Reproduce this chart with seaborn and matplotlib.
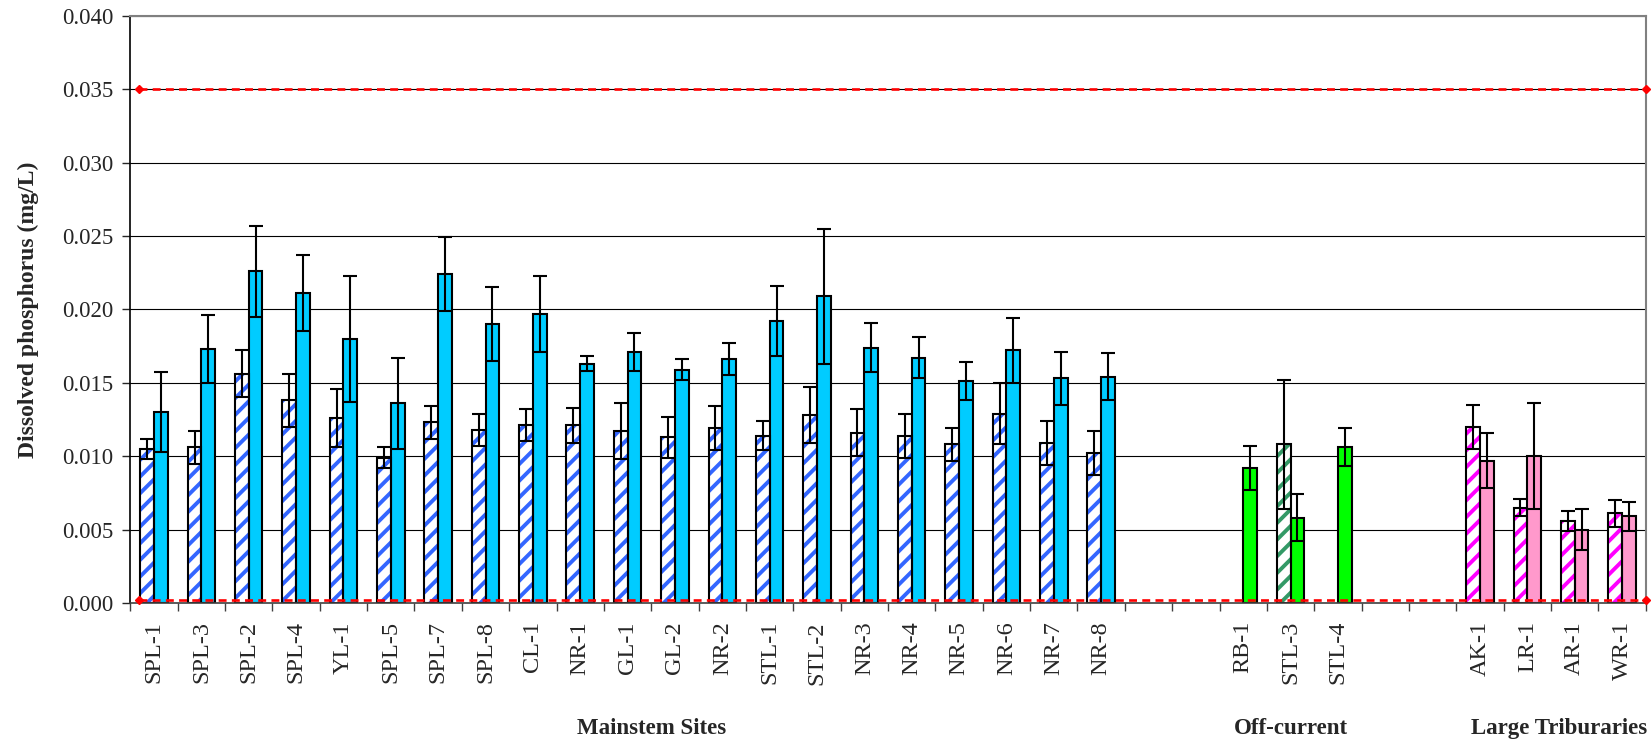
import numpy as np
import pandas as pd
import matplotlib
matplotlib.use('Agg')
import matplotlib.pyplot as plt
import matplotlib.transforms as mtransforms
from matplotlib.patches import Rectangle
import seaborn as sns

# site order along the x axis
sites = ["SPL-1", "SPL-3", "SPL-2", "SPL-4", "YL-1", "SPL-5", "SPL-7", "SPL-8",
         "CL-1", "NR-1", "GL-1", "GL-2", "NR-2", "STL-1", "STL-2", "NR-3",
         "NR-4", "NR-5", "NR-6", "NR-7", "NR-8",
         "RB-1", "STL-3", "STL-4",
         "AK-1", "LR-1", "AR-1", "WR-1"]
groups = ["Mainstem Sites"] * 21 + ["Off-current"] * 3 + ["Large Triburaries"] * 4
group_names = ["Mainstem Sites", "Off-current", "Large Triburaries"]

# hatched bars (first series) and solid bars (second series), mg/L
first_mean = [0.0105, 0.0106, 0.0156, 0.0138, 0.0126, 0.0099, 0.0123, 0.0118,
              0.0121, 0.0121, 0.0117, 0.0113, 0.0119, 0.0114, 0.0128, 0.0116,
              0.0114, 0.0108, 0.0129, 0.0109, 0.0102,
              np.nan, 0.0108, np.nan,
              0.0120, 0.0065, 0.0056, 0.0061]
first_err = [0.0007, 0.0011, 0.0016, 0.0018, 0.0020, 0.0007, 0.0011, 0.0011,
             0.0011, 0.0012, 0.0019, 0.0014, 0.0015, 0.0010, 0.0019, 0.0016,
             0.0015, 0.0011, 0.0021, 0.0015, 0.0015,
             np.nan, 0.0044, np.nan,
             0.0015, 0.0006, 0.0007, 0.0009]
second_mean = [0.0130, 0.0173, 0.0226, 0.0211, 0.0180, 0.0136, 0.0224, 0.0190,
               0.0197, 0.0163, 0.0171, 0.0159, 0.0166, 0.0192, 0.0209, 0.0174,
               0.0167, 0.0151, 0.0172, 0.0153, 0.0154,
               0.0092, 0.0058, 0.0106,
               0.0097, 0.0100, 0.0050, 0.0059]
second_err = [0.0027, 0.0023, 0.0031, 0.0026, 0.0043, 0.0031, 0.0025, 0.0025,
              0.0026, 0.0005, 0.0013, 0.0007, 0.0011, 0.0024, 0.0046, 0.0017,
              0.0014, 0.0013, 0.0022, 0.0018, 0.0016,
              0.0015, 0.0016, 0.0013,
              0.0019, 0.0036, 0.0014, 0.0010]

# reference levels drawn as red dashed lines
criteria = [0.035, 0.0002]

# colours per group: (hatch colour, solid fill)
group_colors = {
    "Mainstem Sites": ("#3366FF", "#00CCFF"),
    "Off-current": ("#339966", "#00FF00"),
    "Large Triburaries": ("#FF00FF", "#FF99CC"),
}

# two empty slots between groups
order = sites[:21] + [" ", "  "] + sites[21:24] + ["   ", "    "] + sites[24:]

df = pd.concat([
    pd.DataFrame({"site": sites, "group": groups, "value": first_mean,
                  "err": first_err, "series": "first"}),
    pd.DataFrame({"site": sites, "group": groups, "value": second_mean,
                  "err": second_err, "series": "second"}),
], ignore_index=True)
lookup = df.set_index(["site", "series"])

sns.set_style("white")
plt.rcParams['font.family'] = ['Liberation Serif', 'DejaVu Serif']
plt.rcParams['hatch.linewidth'] = 2.8

fig = plt.figure(figsize=(16.52, 7.43), dpi=100)
ax = fig.add_axes([0.0789, 0.1884, 0.9173, 0.7905])

sns.barplot(data=df, x="site", y="value", hue="series", order=order,
            hue_order=["first", "second"], width=0.58, errorbar=None,
            legend=False, saturation=1, edgecolor="black", linewidth=1.5,
            ax=ax)

for cont, series in zip(ax.containers, ["first", "second"]):
    for bar in cont:
        cx = bar.get_x() + bar.get_width() / 2
        site = order[int(round(cx))]
        row = lookup.loc[(site, series)]
        hatch_col, fill_col = group_colors[row["group"]]
        if series == "first":
            # hatch drawn in the group colour, outline added on top in black
            bar.set_facecolor("white")
            bar.set_edgecolor(hatch_col)
            bar.set_hatch("//")
            bar.set_linewidth(0)
            ax.add_patch(Rectangle((bar.get_x(), 0), bar.get_width(), bar.get_height(),
                                   fill=False, edgecolor="black", linewidth=1.5,
                                   zorder=bar.get_zorder() + 0.1))
        else:
            bar.set_facecolor(fill_col)
        ax.errorbar(cx, row["value"], yerr=row["err"], fmt="none", ecolor="black",
                    elinewidth=1.5, capsize=5, capthick=1.5, zorder=4)

# criteria lines
for level in criteria:
    ax.plot([-0.32, len(order) - 0.5], [level, level], color="red", lw=1.9,
            ls=(0, (3, 2)), marker="D", ms=4, clip_on=False, zorder=5)

ax.set_xlim(-0.5, len(order) - 0.5)
ax.set_ylim(0, 0.040)
ax.set_yticks(np.arange(0, 0.0401, 0.005))
ax.set_yticklabels([f"{v:.3f}" for v in np.arange(0, 0.0401, 0.005)], fontsize=16.5)
ax.yaxis.grid(True, color="black", linewidth=0.8)
ax.set_axisbelow(True)

ax.set_xticks(range(len(order)))
ax.set_xticklabels([s.strip() for s in order], rotation=90, fontsize=17.5)
ax.set_xticks(np.arange(-0.5, len(order), 1), minor=True)
ax.tick_params(axis="x", which="major", length=0, pad=13)
ax.tick_params(axis="x", which="minor", length=6, width=1, color="#404040", direction="out", bottom=True)
ax.tick_params(axis="y", length=6, width=1, direction="out", left=True, pad=6)

ax.set_xlabel("")
ax.set_ylabel("Dissolved phosphorus (mg/L)", fontsize=17, fontweight="bold")
ax.yaxis.set_label_coords(-0.06, 0.5)

for side in ["top", "right"]:
    ax.spines[side].set_color("#808080")
    ax.spines[side].set_linewidth(1.5)
ax.spines["left"].set_color("black")
ax.spines["left"].set_linewidth(1.2)
ax.spines["bottom"].set_color("#404040")
ax.spines["bottom"].set_linewidth(1.2)

# group captions under the site labels
trans = mtransforms.blended_transform_factory(ax.transData, fig.transFigure)
label_x = {"Mainstem Sites": 10.5, "Off-current": 24.0, "Large Triburaries": 29.66}
for g in group_names:
    ax.text(label_x[g], 0.02, g, transform=trans, ha="center", va="center",
            fontsize=16.5, fontweight="bold")

fig.savefig("out.png", dpi=100)
